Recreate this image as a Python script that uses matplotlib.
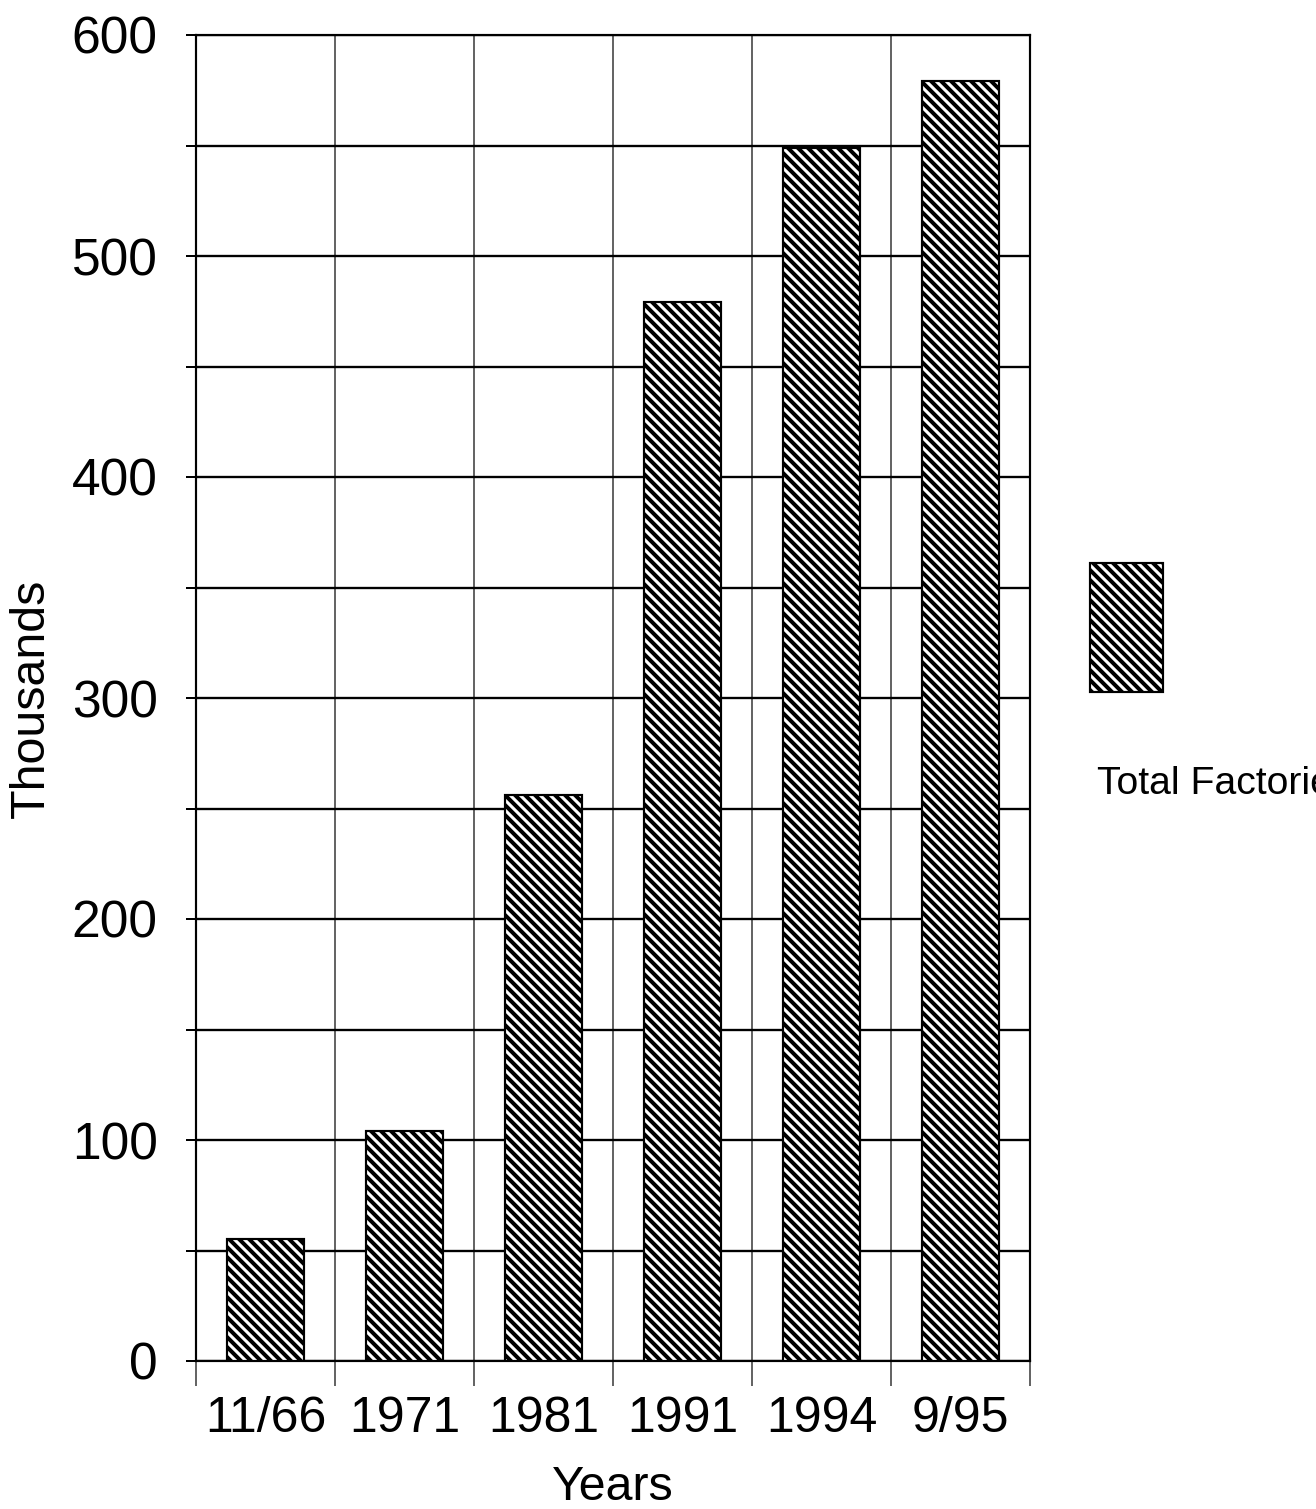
import matplotlib
matplotlib.use("Agg")
import matplotlib.pyplot as plt
from matplotlib.patches import Rectangle
from matplotlib.ticker import MultipleLocator, FixedLocator, NullFormatter
import numpy as np

categories = ["11/66", "1971", "1981", "1991", "1994", "9/95"]
factories = [55, 104, 256, 479, 549, 579]
series_name = "Total Factories"
y_ticks = [0, 100, 200, 300, 400, 500, 600]

DPI = 120
W, H = 1316, 1509
plt.rcParams['hatch.linewidth'] = 2.4
plt.rcParams['font.family'] = ['Liberation Sans', 'DejaVu Sans']

fig = plt.figure(figsize=(W / DPI, H / DPI), dpi=DPI)
left, right, top, bottom = 196, 1030, 35, 1361
ax = fig.add_axes([left / W, 1 - bottom / H, (right - left) / W, (bottom - top) / H])

HATCH = '\\' * 4

x = np.arange(len(categories))
ax.bar(x, factories, width=0.56, facecolor='white', edgecolor='black',
       hatch=HATCH, linewidth=1.3, zorder=3)

ax.set_xlim(-0.5, len(categories) - 0.5)
ax.set_ylim(0, 600)

# y axis
ax.yaxis.set_major_locator(FixedLocator(y_ticks))
ax.yaxis.set_minor_locator(MultipleLocator(50))
ax.set_yticklabels([str(v) for v in y_ticks], fontsize=31)
ax.tick_params(axis='y', which='both', direction='out', length=6, width=1.2, pad=17)
ax.grid(axis='y', which='both', color='black', linewidth=1.4, zorder=0)

# x axis: boundaries carry ticks + grid, centers carry labels
ax.xaxis.set_major_locator(FixedLocator(np.arange(len(categories) + 1) - 0.5))
ax.xaxis.set_major_formatter(NullFormatter())
ax.xaxis.set_minor_locator(FixedLocator(x))
ax.set_xticklabels(categories, minor=True, fontsize=30)
ax.tick_params(axis='x', which='major', direction='out', length=15, width=0.9, color='#333333')
ax.tick_params(axis='x', which='minor', length=0, pad=21)
ax.grid(axis='x', which='major', color='#333333', linewidth=0.9, zorder=0)
ax.set_axisbelow(True)

for s in ax.spines.values():
    s.set_color('black')
    s.set_linewidth(1.3)

ax.set_ylabel("Thousands", fontsize=29)
ax.yaxis.set_label_coords(-(196 - 54) / (right - left), 0.5)
ax.set_xlabel("Years", fontsize=29, labelpad=14)

# legend (hatched swatch with label below, cut at figure edge as in the original)
sw_x0, sw_y0, sw_x1, sw_y1 = 1090, 563, 1163, 692
fig.patches.append(Rectangle((sw_x0 / W, 1 - sw_y1 / H), (sw_x1 - sw_x0) / W, (sw_y1 - sw_y0) / H,
                             transform=fig.transFigure, facecolor='white', edgecolor='black',
                             hatch=HATCH, linewidth=1.3))
fig.text(1097 / W, 1 - 784 / H, series_name, fontsize=23.5, va='center', ha='left')

fig.savefig("out.png", dpi=DPI)
